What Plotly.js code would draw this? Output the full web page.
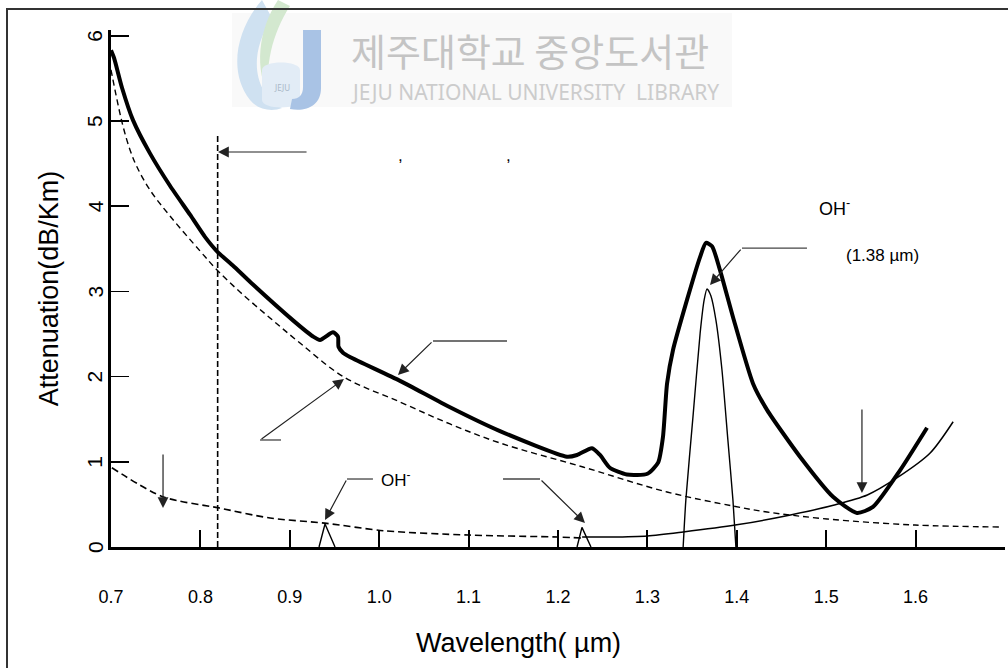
<!DOCTYPE html>
<html>
<head>
<meta charset="utf-8">
<script src="https://cdn.plot.ly/plotly-3.0.1.min.js"></script>
<style>html,body{margin:0;padding:0;background:#fff;}#chart{width:1008px;height:668px;}</style>
</head>
<body>
<div id="chart"></div>
<script>
// ---- data ----
const totalX = [0.700,0.7034,0.7123,0.7246,0.7436,0.766,0.7884,0.8051,0.8186,0.8387,0.8588,0.9036,0.926,0.9338,0.9483,0.9539,0.9545,0.9595,0.9673,1.0233,1.0792,1.1351,1.2101,1.2213,1.238,1.247,1.258,1.277,1.300,1.312,1.3174,1.322,1.3286,1.3443,1.3588,1.3655,1.3723,1.3812,1.3957,1.4181,1.4338,1.4707,1.5076,1.5345,1.5523,1.5826,1.6128];
const totalY = [5.83,5.74,5.39,5.01,4.62,4.24,3.90,3.64,3.47,3.28,3.08,2.66,2.47,2.43,2.52,2.47,2.35,2.28,2.23,1.95,1.64,1.36,1.06,1.08,1.16,1.08,0.93,0.85,0.86,0.99,1.29,1.92,2.31,2.90,3.40,3.57,3.53,3.25,2.70,1.92,1.61,1.06,0.59,0.40,0.47,0.90,1.40];

const rayleighX = [0.700,0.7067,0.7134,0.7213,0.7291,0.7436,0.766,0.7996,0.8186,0.8443,0.8779,0.9114,0.9606,1.0233,1.0792,1.1351,1.228,1.3219,1.3957,1.4338,1.5009,1.5993,1.6944];
const rayleighY = [5.60,5.25,4.94,4.66,4.46,4.19,3.885,3.474,3.251,2.993,2.688,2.394,1.995,1.702,1.444,1.221,0.939,0.646,0.481,0.411,0.329,0.258,0.235];

const uvX = [0.701,0.758,0.820,0.878,0.939,1.006,1.100,1.200,1.227];
const uvY = [0.93,0.59,0.46,0.34,0.28,0.19,0.14,0.117,0.105];

const irX = [1.227,1.258,1.300,1.340,1.400,1.460,1.508,1.546,1.579,1.616,1.642];
const irY = [0.117,0.117,0.13,0.176,0.26,0.376,0.49,0.61,0.81,1.10,1.47];

const ohPeakX = [1.340,1.343,1.351,1.359,1.3635,1.3667,1.371,1.3767,1.3834,1.390,1.3957,1.399];
const ohPeakY = [0,0.55,1.53,2.51,2.90,3.03,2.95,2.66,2.08,1.26,0.55,0];

const oh095X = [0.9327,0.9394,0.9506];
const oh095Y = [0,0.27,0];
const oh124X = [1.2213,1.2268,1.2369];
const oh124Y = [0,0.23,0];

const cutoffX = [0.8193,0.8193];
const cutoffY = [0,4.84];

const NB = '\u00a0';
const xTickVals = [0.7,0.8,0.9,1.0,1.1,1.2,1.3,1.4,1.5,1.6,1.7];
const xTickText = ['0.7','0.8','0.9','1.0','1.1','1.2','1.3','1.4','1.5','1.6','1.7' + NB.repeat(7)];
const yTickVals = [0,1,2,3,4,5,6];
const yTickText = ['0','1','2','3','4','5','6'];

// ---- layout helpers (pixel -> paper) ----
const L = 111, R = 3, T = 30, B = 121, W = 1008, H = 668;
const PW = W - L - R, PH = H - T - B;
function px(x){ return (x - L) / PW; }
function py(y){ return (H - B - y) / PH; }
function P(x, y){ return px(x).toFixed(4) + ',' + py(y).toFixed(4); }

const font = 'Liberation Sans, Arial, sans-serif';

const traces = [
  {x: totalX, y: totalY, mode:'lines', line:{color:'#000', width:4, shape:'spline', smoothing:0.6}, hoverinfo:'skip'},
  {x: rayleighX, y: rayleighY, mode:'lines', line:{color:'#000', width:1.4, dash:'6px,4px', shape:'spline', smoothing:1}, hoverinfo:'skip'},
  {x: uvX, y: uvY, mode:'lines', line:{color:'#000', width:1.6, dash:'7px,4px', shape:'spline', smoothing:0.8}, hoverinfo:'skip'},
  {x: irX, y: irY, mode:'lines', line:{color:'#000', width:1.5, shape:'spline', smoothing:0.8}, hoverinfo:'skip'},
  {x: ohPeakX, y: ohPeakY, mode:'lines', line:{color:'#000', width:1.4, shape:'spline', smoothing:0.6}, hoverinfo:'skip'},
  {x: oh095X, y: oh095Y, mode:'lines', line:{color:'#000', width:1.4}, hoverinfo:'skip'},
  {x: oh124X, y: oh124Y, mode:'lines', line:{color:'#000', width:1.4}, hoverinfo:'skip'},
  {x: cutoffX, y: cutoffY, mode:'lines', line:{color:'#000', width:1.6, dash:'6px,3px'}, hoverinfo:'skip'}
];

function arrow(x, y, ax, ay){
  return {x:x, y:y, ax:ax, ay:ay, xref:'x', yref:'y', axref:'x', ayref:'y', text:'',
          showarrow:true, arrowhead:2, arrowsize:1.8, arrowwidth:1.2, arrowcolor:'#222', standoff:0};
}
function hline(x0, x1, y){
  return {type:'line', xref:'x', yref:'y', x0:x0, x1:x1, y0:y, y1:y, line:{color:'#444', width:1.3}};
}
function paperText(x, y, text, f){
  return {x:px(x), y:py(y), xref:'paper', yref:'paper', xanchor:'center', yanchor:'middle', text:text, showarrow:false, font:f};
}

const annotations = [
  arrow(0.8197, 4.636, 0.9204, 4.636),
  arrow(1.021, 2.019, 1.0602, 2.418),
  arrow(0.9606, 1.972, 0.8667, 1.256),
  arrow(0.7582, 0.458, 0.7582, 1.103),
  arrow(0.9394, 0.317, 0.964, 0.798),
  arrow(1.2302, 0.282, 1.1799, 0.798),
  arrow(1.370, 3.075, 1.4058, 3.509),
  arrow(1.540, 0.634, 1.540, 1.631),
  {x:1.0233, y:4.60, xref:'x', yref:'y', xanchor:'center', yanchor:'middle', text:',', showarrow:false, font:{family:font, size:17, color:'#000'}},
  {x:1.1441, y:4.60, xref:'x', yref:'y', xanchor:'center', yanchor:'middle', text:',', showarrow:false, font:{family:font, size:17, color:'#000'}},
  {x:1.000, y:0.80, xref:'x', yref:'y', xanchor:'left', yanchor:'middle', text:'OH<sup>-</sup>', showarrow:false, font:{family:font, size:17, color:'#000'}},
  {x:1.4895, y:3.98, xref:'x', yref:'y', xanchor:'left', yanchor:'middle', text:'OH<sup>-</sup>', showarrow:false, font:{family:font, size:18, color:'#000'}},
  {x:1.5635, y:3.42, xref:'x', yref:'y', xanchor:'center', yanchor:'middle', text:'(1.38 µm)', showarrow:false, font:{family:font, size:17, color:'#000'}},
  paperText(518, 643, 'Wavelength( µm)', {family:font, size:27, color:'#000'}),
  // watermark
  paperText(530, 49, '제주대학교 중앙도서관', {family:'Noto Sans CJK KR', size:38, color:'#c4c4c4'}),
  paperText(535, 92, 'JEJU NATIONAL UNIVERSITY  LIBRARY', {family:'Noto Sans', size:21, color:'#cccccc'}),
  paperText(282, 87, 'JEJU', {family:'Noto Sans', size:8, color:'#a9b8c8'})
];
// y tick labels, rotated like the reference
const yLabelStart = annotations.length;
yTickVals.forEach(function(v, i){
  annotations.push({x:px(95), y:v, xref:'paper', yref:'y', xanchor:'center', yanchor:'middle', textangle:-90,
    text:yTickText[i], showarrow:false, font:{family:font, size:21, color:'#000'}});
});

const shapes = [
  // watermark backdrop and logo
  {type:'rect', xref:'paper', yref:'paper', x0:px(232), x1:px(732), y0:py(107), y1:py(13), fillcolor:'#f9f9f9', line:{width:0}, layer:'below'},
  {type:'path', xref:'paper', yref:'paper', layer:'below', fillcolor:'#cfe1f1', line:{width:0},
   path:'M'+P(262,0)+' C'+P(236,30)+' '+P(228,72)+' '+P(250,100)+' C'+P(258,110)+' '+P(272,112)+' '+P(282,108)+' C'+P(256,94)+' '+P(246,58)+' '+P(272,18)+' Z'},
  {type:'path', xref:'paper', yref:'paper', layer:'below', fillcolor:'#d3e8cf', line:{width:0},
   path:'M'+P(278,0)+' C'+P(258,30)+' '+P(254,70)+' '+P(270,98)+' C'+P(264,68)+' '+P(272,34)+' '+P(290,6)+' Z'},
  {type:'path', xref:'paper', yref:'paper', layer:'below', fillcolor:'#e2ecf6', line:{width:0},
   path:'M'+P(262,70)+' C'+P(262,60)+' '+P(300,60)+' '+P(300,70)+' L'+P(300,100)+' C'+P(300,110)+' '+P(262,110)+' '+P(262,100)+' Z'},
  {type:'path', xref:'paper', yref:'paper', layer:'below', fillcolor:'#a9c3e5', line:{width:0},
   path:'M'+P(303,30)+' L'+P(321,30)+' L'+P(321,88)+' C'+P(321,106)+' '+P(306,112)+' '+P(290,109)+' L'+P(292,99)+' C'+P(299,99)+' '+P(303,95)+' '+P(303,87)+' Z'},
  // outer frame
  {type:'rect', xref:'paper', yref:'paper', x0:px(7), x1:px(1030), y0:py(700), y1:py(9), line:{color:'#333', width:2}, layer:'below'},
  // horizontal leader segments of the callouts
  hline(0.8667, 0.8902, 1.256),
  hline(1.0602, 1.1430, 2.418),
  hline(0.964, 0.993, 0.798),
  hline(1.1385, 1.1799, 0.798),
  hline(1.4058, 1.4785, 3.509)
];

const layout = {
  width: W, height: H,
  margin: {l:L, r:R, t:T, b:B, pad:0},
  paper_bgcolor:'#fff', plot_bgcolor:'#fff',
  showlegend:false,
  font:{family:font, color:'#000'},
  xaxis:{
    range:[0.7,1.70001], tickmode:'array', tickvals:xTickVals, ticktext:xTickText,
    ticks:'inside', ticklen:17, tickwidth:2, tickcolor:'#000',
    showline:true, linewidth:3, linecolor:'#000', mirror:false,
    showgrid:false, zeroline:false, automargin:false,
    tickfont:{family:font, size:18, color:'#000'}, ticklabelstandoff:31
  },
  yaxis:{
    range:[0, 6.068], tickmode:'array', tickvals:yTickVals, ticktext:yTickText,
    ticks:'inside', ticklen:18, tickwidth:1.5, tickcolor:'#000',
    showline:true, linewidth:3, linecolor:'#000', showticklabels:false,
    showgrid:false, zeroline:false, automargin:false,
    title:{text:'Attenuation(dB/Km)', font:{family:font, size:27, color:'#000'}, standoff:42}
  },
  annotations: annotations,
  shapes: shapes
};

Plotly.newPlot('chart', traces, layout, {staticPlot:true, displayModeBar:false}).then(function(gd){
  // make sure the y tick labels end up turned a quarter turn, as in the reference
  gd.querySelectorAll('.annotation').forEach(function(g){
    var idx = +g.getAttribute('data-index');
    if(idx < yLabelStart) return;
    var t = g.querySelector('text.annotation-text');
    if(!t) return;
    var r = t.getBoundingClientRect();
    if(r.height > r.width * 1.1){
      var bb = t.getBBox();
      var prev = t.getAttribute('transform') || '';
      t.setAttribute('transform', (prev + ' rotate(-90 ' + (bb.x + bb.width/2) + ' ' + (bb.y + bb.height/2) + ')').trim());
    }
  });
});
</script>
</body>
</html>
